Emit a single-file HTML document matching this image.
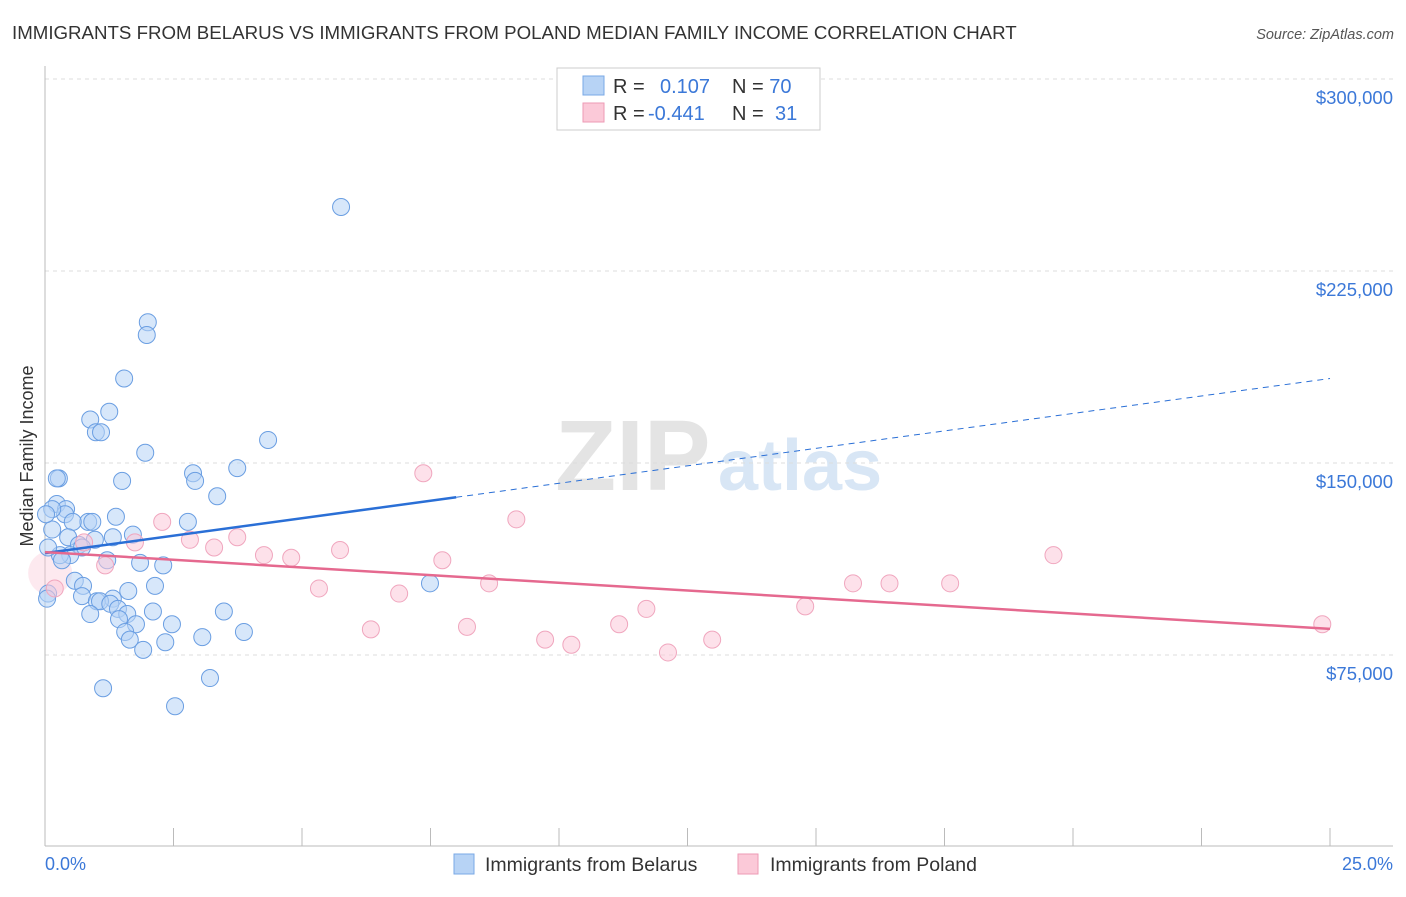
<!DOCTYPE html>
<html><head><meta charset="utf-8"><style>
body{margin:0;background:#fff;font-family:"Liberation Sans",sans-serif}
svg text{font-family:"Liberation Sans",sans-serif}
</style></head><body>
<svg id="chart" width="1406" height="892" viewBox="0 0 1406 892">
<text x="12" y="39" font-size="18.7" fill="#333">IMMIGRANTS FROM BELARUS VS IMMIGRANTS FROM POLAND MEDIAN FAMILY INCOME CORRELATION CHART</text>
<text x="1394" y="39" font-size="14.5" fill="#555" font-style="italic" text-anchor="end">Source: ZipAtlas.com</text>
<g>
<text x="555" y="490" font-size="100" fill="#e4e4e4" font-family="Liberation Serif" font-weight="bold">ZIP</text>
<text x="718" y="490" font-size="72" fill="#d8e6f5" font-weight="bold">atlas</text>
</g>
<g id="grid"></g>
<line x1="45" y1="66" x2="45" y2="846" stroke="#bbb"/>
<line x1="45" y1="846" x2="1393" y2="846" stroke="#bbb"/>
<g id="xticks"></g>
<text x="33" y="456" font-size="18" fill="#333" text-anchor="middle" transform="rotate(-90 33 456)">Median Family Income</text>
<text x="45" y="870" font-size="18" fill="#3b78d8">0.0%</text>
<text x="1393" y="870" font-size="18" fill="#3b78d8" text-anchor="end">25.0%</text>
<g id="pts"></g>
<g id="lines"></g>
<g>
<rect x="557" y="68" width="263" height="62" fill="#fff" stroke="#ccc"/>
<rect x="583" y="76" width="21" height="19" fill="#b7d3f5" stroke="#7aa8e6"/>
<rect x="583" y="103" width="21" height="19" fill="#fbc9d8" stroke="#ee9ab5"/>
<text x="613" y="93" font-size="20" fill="#333">R = <tspan fill="#3b78d8" x="660">0.107</tspan><tspan x="732">N = </tspan><tspan fill="#3b78d8">70</tspan></text>
<text x="613" y="120" font-size="20" fill="#333">R = <tspan fill="#3b78d8" x="648">-0.441</tspan><tspan x="732">N = </tspan><tspan fill="#3b78d8" x="775">31</tspan></text>
</g>
<g>
<rect x="454" y="854" width="20" height="20" fill="#b7d3f5" stroke="#7aa8e6"/>
<text x="485" y="871" font-size="19.5" fill="#333">Immigrants from Belarus</text>
<rect x="738" y="854" width="20" height="20" fill="#fbc9d8" stroke="#ee9ab5"/>
<text x="770" y="871" font-size="19.5" fill="#333">Immigrants from Poland</text>
</g>
</svg>
<script>
const yTicks=[75000,150000,225000,300000];
const yTickLabels=["$75,000","$150,000","$225,000","$300,000"];
const belarusX=[5.76,2.00,1.98,1.54,1.25,0.88,0.99,1.09,4.34,1.95,0.27,0.23,1.50,3.74,2.88,2.92,3.35,0.23,0.41,0.39,0.14,1.38,0.84,0.92,0.54,2.78,0.14,0.45,1.32,1.71,0.97,0.66,0.72,0.49,0.29,0.06,1.21,1.85,2.30,0.33,0.58,0.74,2.14,0.06,0.04,0.72,1.62,1.32,1.01,1.07,1.27,1.42,2.10,3.48,0.88,1.60,1.44,1.77,2.47,1.56,1.65,3.06,3.87,2.34,1.91,7.49,1.13,3.21,2.53,0.02];
const belarusY=[250,205,200,183,170,167,162,162,159,154,144,144,143,148,146,143,137,134,132,130,132,129,127,127,127,127,124,121,121,122,120,118,117,114,114,117,112,111,110,112,104,102,102,99,97,98,100,97,96,96,95,93,92,92,91,91,89,87,87,84,81,82,84,80,77,103,62,66,55,130];
const polandX=[0.19,0.76,1.17,1.75,2.28,2.82,3.29,3.74,4.26,4.79,5.33,5.74,6.34,6.89,7.36,7.73,8.21,8.64,9.17,9.73,10.24,11.17,11.70,12.12,12.98,14.79,15.72,16.43,17.61,19.62,24.85];
const polandY=[101,119,110,119,127,120,117,121,114,113,101,116,85,99,146,112,86,103,128,81,79,87,93,76,81,94,103,103,103,114,87];
const belarusTrend=[114.8,183];
const belarusSolidEnd=8.0;
const polandTrend=[115.2,85.2];
const X=p=>45+p/25*1285;
const Y=v=>847-v/75000*192;
const NS="http://www.w3.org/2000/svg";
function mk(t,a,parent){const e=document.createElementNS(NS,t);for(const k in a)e.setAttribute(k,a[k]);document.getElementById(parent).appendChild(e);return e;}
yTicks.forEach((v,i)=>{
  const l=mk('line',{x1:45,x2:1393,y1:Y(v),y2:Y(v),stroke:'#ddd','stroke-dasharray':'4,4'},'grid');
  
  
  const t=mk('text',{x:1393,y:Y(v)+25,'font-size':18.5,fill:'#3b78d8','text-anchor':'end'},'grid');
  t.textContent=yTickLabels[i];
  
  
});
for(let i=1;i<=10;i++){
  const l=mk('line',{x1:X(i*2.5),x2:X(i*2.5),y1:828,y2:846,stroke:'#bbb'},'xticks');
  
  
}
const big=mk('circle',{cx:X(0.1),cy:Y(107000),r:22,fill:'#fbc9d8','fill-opacity':0.4},'pts');


belarusX.forEach((x,i)=>{
  const c=mk('circle',{cx:X(x),cy:Y(belarusY[i]*1000),r:8.5,fill:'#b7d3f5','fill-opacity':0.55,stroke:'#6a9ee2','stroke-width':1},'pts');
  
  
});
polandX.forEach((x,i)=>{
  const c=mk('circle',{cx:X(x),cy:Y(polandY[i]*1000),r:8.5,fill:'#fbc9d8','fill-opacity':0.55,stroke:'#f0a6be','stroke-width':1},'pts');
  
  
});
const bAt=p=>belarusTrend[0]+(belarusTrend[1]-belarusTrend[0])*p/25;
let l1=mk('line',{x1:X(0),y1:Y(bAt(0)*1000),x2:X(belarusSolidEnd),y2:Y(bAt(belarusSolidEnd)*1000),stroke:'#2a6fd6','stroke-width':2.5},'lines');


let l2=mk('line',{x1:X(belarusSolidEnd),y1:Y(bAt(belarusSolidEnd)*1000),x2:X(25),y2:Y(bAt(25)*1000),stroke:'#2a6fd6','stroke-width':1,'stroke-dasharray':'6,5'},'lines');


let l3=mk('line',{x1:X(0),y1:Y(polandTrend[0]*1000),x2:X(25),y2:Y(polandTrend[1]*1000),stroke:'#e5698f','stroke-width':2.5},'lines');


</script>
</body></html>
